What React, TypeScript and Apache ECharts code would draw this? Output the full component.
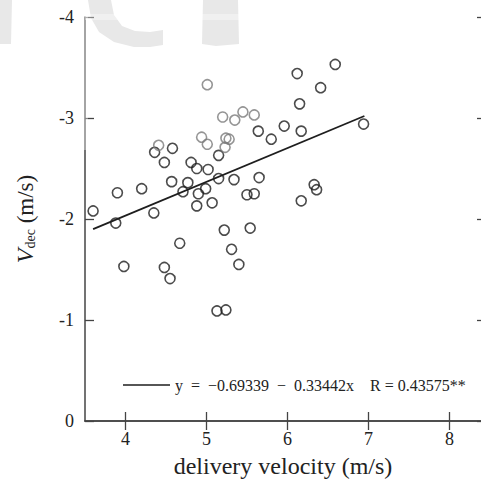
import React, { useEffect, useRef } from "react";
import * as echarts from "echarts";

const blackX = [3.60, 3.88, 3.90, 3.98, 4.20, 4.35, 4.36, 4.48, 4.48, 4.55, 4.57, 4.58, 4.67, 4.71, 4.77, 4.81, 4.88, 4.88, 4.90, 4.99, 5.02, 5.07, 5.15, 5.13, 5.15, 5.22, 5.24, 5.31, 5.34, 5.40, 5.50, 5.54, 5.59, 5.64, 5.65, 5.80, 5.96, 6.12, 6.15, 6.17, 6.17, 6.33, 6.36, 6.41, 6.59, 6.94];
const blackY = [-2.08, -1.96, -2.26, -1.53, -2.30, -2.06, -2.66, -2.56, -1.52, -1.41, -2.37, -2.70, -1.76, -2.27, -2.36, -2.56, -2.50, -2.13, -2.25, -2.30, -2.49, -2.16, -2.63, -1.09, -2.40, -1.89, -1.10, -1.70, -2.39, -1.55, -2.24, -1.91, -2.25, -2.87, -2.41, -2.79, -2.92, -3.44, -3.14, -2.87, -2.18, -2.34, -2.29, -3.30, -3.53, -2.94];
const grayX = [4.41, 4.94, 5.01, 5.01, 5.20, 5.23, 5.24, 5.28, 5.35, 5.45, 5.59];
const grayY = [-2.73, -2.81, -3.33, -2.74, -3.01, -2.71, -2.80, -2.79, -2.98, -3.06, -3.03];
const fitX = [3.6, 6.95];
const fitY = [-1.90, -3.02];
const xMin = 3.5;
const xMaxVisible = 8.39;
const NB = "\u00a0";
const fitLabel = `y${NB}${NB}=${NB}${NB}\u22120.69339${NB}${NB}\u2212${NB}${NB}0.33442x${NB}${NB}${NB}${NB}R${NB}=${NB}0.43575**`;
const xName = "delivery velocity (m/s)";

const SERIF = "Liberation Serif";

export default function App() {
  const ref = useRef<HTMLDivElement>(null);
  useEffect(() => {
    if (!ref.current) return;
    const chart = echarts.init(ref.current, null, { renderer: "svg" });
    const axisColor = "#444";
    const xBase = {
      type: "value",
      min: xMin,
      max: xMaxVisible,
      splitNumber: 5,
      splitLine: { show: false },
      axisLine: { show: true, lineStyle: { color: axisColor, width: 1.5 } },
      axisTick: {
        show: true,
        inside: true,
        length: 9,
        lineStyle: { color: axisColor, width: 1.3 },
        customValues: [4, 5, 6, 7, 8],
      },
    };
    const yBase = {
      type: "value",
      min: -4,
      max: 0,
      interval: 1,
      inverse: true,
      splitLine: { show: false },
      axisLine: { show: true, lineStyle: { color: axisColor, width: 1.5 } },
      axisTick: { show: true, inside: true, length: 9, lineStyle: { color: axisColor, width: 1.3 } },
    };
    chart.setOption({
      animation: false,
      backgroundColor: "#fff",
      grid: { left: 85, top: 17, width: 396, height: 404, containLabel: false, outerBoundsMode: "none" },
      graphic: [
        { type: "polygon", z: -10, shape: { points: [[0, 0], [12, 0], [11, 44], [0, 44]] }, style: { fill: "#e8e8e8" } },
        { type: "polygon", z: -10, shape: { points: [[88, 0], [91, 18], [99, 32], [114, 42], [134, 47], [150, 47], [163, 45], [163, 30], [150, 32], [135, 31], [122, 26], [114, 15], [111, 0]] }, style: { fill: "#e8e8e8" } },
        { type: "polygon", z: -10, shape: { points: [[203, 0], [238, 0], [239, 44], [216, 46], [202, 44]] }, style: { fill: "#e8e8e8" } },
        { type: "rect", z: 100, shape: { x: 82, y: 10, width: 6, height: 140 }, style: { fill: "rgba(255,255,255,0.35)" } },
        { type: "rect", z: 100, shape: { x: 85, y: 14, width: 172, height: 6 }, style: { fill: "rgba(255,255,255,0.35)" } },
      ],
      legend: {
        data: [{ name: fitLabel, icon: "rect" }],
        left: 118,
        top: 372,
        itemWidth: 47,
        itemHeight: 1.6,
        textStyle: { fontFamily: SERIF, fontSize: 16, color: "#222" },
      },
      xAxis: [
        {
          ...xBase,
          position: "bottom",
          name: xName,
          nameLocation: "middle",
          nameGap: 33,
          nameTextStyle: { fontFamily: SERIF, fontSize: 24, color: "#222" },
          axisLabel: {
            margin: 9,
            fontFamily: SERIF,
            fontSize: 18,
            color: "#222",
            customValues: [4, 5, 6, 7, 8],
            formatter: (v: number) => (Number.isInteger(v) ? String(v) : ""),
          },
        },
        { ...xBase, position: "top", axisLabel: { show: false } },
      ],
      yAxis: [
        {
          ...yBase,
          position: "left",
          name: "{v|V}{s|dec}{n| (m/s)}",
          nameLocation: "middle",
          nameRotate: 90,
          nameGap: 48,
          nameTextStyle: {
            fontFamily: SERIF,
            color: "#222",
            rich: {
              v: { fontFamily: SERIF, fontStyle: "italic", fontSize: 24, color: "#222" },
              s: { fontFamily: SERIF, fontSize: 14, color: "#222", verticalAlign: "bottom", padding: [9, 0, 0, 0] },
              n: { fontFamily: SERIF, fontSize: 23, color: "#222" },
            },
          },
          axisLabel: {
            margin: 11,
            fontFamily: SERIF,
            fontSize: 18,
            color: "#222",
            formatter: (v: number) => String(v),
          },
        },
        {
          ...yBase,
          position: "right",
          axisLine: { show: false },
          axisTick: { show: true, inside: true, length: 4, lineStyle: { color: axisColor, width: 1.3 } },
          axisLabel: { show: false },
        },
      ],
      series: [
        {
          name: "black",
          type: "scatter",
          symbol: "circle",
          symbolSize: 10,
          itemStyle: { color: "rgba(255,255,255,0)", borderColor: "#1e1e1e", borderWidth: 1.6 },
          data: blackX.map((x, i) => [x, blackY[i]]),
        },
        {
          name: "gray",
          type: "scatter",
          symbol: "circle",
          symbolSize: 10,
          itemStyle: { color: "rgba(255,255,255,0)", borderColor: "#7a7a7a", borderWidth: 1.6 },
          data: grayX.map((x, i) => [x, grayY[i]]),
        },
        {
          name: fitLabel,
          type: "line",
          symbol: "none",
          color: "#1e1e1e",
          lineStyle: { color: "#1e1e1e", width: 1.8 },
          data: fitX.map((x, i) => [x, fitY[i]]),
        },
      ],
    });
    return () => chart.dispose();
  }, []);
  return <div ref={ref} style={{ position: "absolute", left: 0, top: 0, width: 481, height: 484 }} />;
}
